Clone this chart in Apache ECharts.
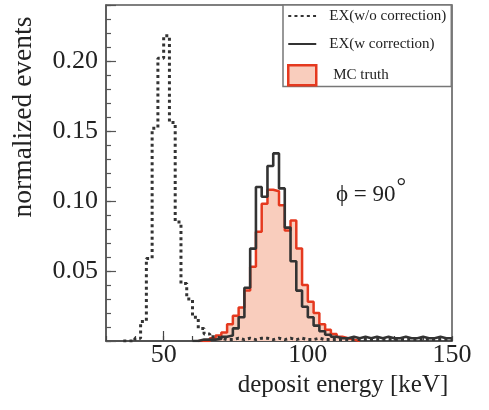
<!DOCTYPE html>
<html><head><meta charset="utf-8">
<script src="https://cdn.jsdelivr.net/npm/echarts@6/dist/echarts.min.js"></script>
<style>html,body{margin:0;padding:0;background:#fff}#c{width:489px;height:410px}</style>
</head><body><div id="c"></div>
<script>
// lower bin edges (keV), bin width 2; last entry closes the final bin
const binEdges = [36,38,40,42,44,46,48,50,52,54,56,58,60,62,64,66,68,70,72,74,76,78,80,82,84,86,88,90,92,94,96,98,100,102,104,106,108,110,112,114,116,118,120,122,124,126,128,130,132,134,136,138,140,142,144,146,148,150];

const exNoCorrection = [0,0,0.002,0.014,0.059,0.152,0.202,0.218,0.156,0.085,0.041,0.030,0.017,0.009,0.005,0.003,0.002,0.001,0.001,0.002,0.001,0.002,0.001,0.002,0.002,0.001,0.002,0.001,0.002,0.001,0.002,0.001,0.001,0.002,0.001,0.001,0.001,0.001,0.001,0.001,0.001,0.001,0.001,0.001,0.001,0.001,0.001,0.001,0.001,0.001,0.001,0.001,0.001,0.001,0.001,0.001,0.001];

const exCorrection = [0,0,0,0,0,0,0,0,0,0,0,0,0,0.001,0.001,0.001,0.0015,0.003,0.004,0.009,0.017,0.038,0.066,0.110,0.103,0.125,0.134,0.109,0.081,0.057,0.036,0.0245,0.017,0.011,0.007,0.0045,0.003,0.002,0.002,0.003,0.002,0.003,0.002,0.003,0.002,0.003,0.002,0.002,0.003,0.002,0.002,0.003,0.002,0.002,0.003,0.002,0.002];

const mcTruth = [0,0,0,0,0,0,0,0,0,0,0,0,0,0,0,0.002,0.004,0.006,0.012,0.018,0.024,0.036,0.053,0.078,0.098,0.108,0.107,0.097,0.079,0.086,0.066,0.040,0.028,0.020,0.012,0.008,0.005,0.003,0.002,0.001,0,0,0,0,0,0,0,0,0,0,0,0,0,0,0,0,0];

const xTickLabels = [50, 100, 150];
const xMajorTicks = [50, 100];
const yTickLabels = [0.05, 0.10, 0.15, 0.20];
const seriesNames = ['EX(w/o correction)', 'EX(w correction)', 'MC truth'];
const annotation = 'ϕ = 90';

const FONT = "'Liberation Serif', 'DejaVu Serif', serif";

function histData(vals, fromEdge, toEdge) {
  const pts = [];
  let last = null;
  for (let i = 0; i < vals.length; i++) {
    const e = binEdges[i];
    if (e >= fromEdge && e < toEdge) { pts.push([e, vals[i]]); last = vals[i]; }
  }
  pts.push([toEdge, last]);
  return pts;
}

const chart = echarts.init(document.getElementById('c'), null, {renderer: 'canvas'});
chart.setOption({
  animation: false,
  backgroundColor: '#fff',
  grid: {left: 106, right: 37, top: 5, bottom: 69, show: true, borderColor: '#555', borderWidth: 1.5, backgroundColor: 'transparent'},
  legend: {
    orient: 'vertical', left: 283, top: 5,
    itemWidth: 28, itemHeight: 20, itemGap: 12,
    padding: [3, 5, 0, 4],
    borderColor: '#777', borderWidth: 1.5, backgroundColor: '#fff',
    textStyle: {fontFamily: FONT, fontSize: 15, color: '#222', padding: [0, 0, 0, 8]},
    data: [
      {name: seriesNames[0], itemStyle: {opacity: 0}},
      {name: seriesNames[1], itemStyle: {opacity: 0}},
      {name: seriesNames[2], icon: 'rect', itemStyle: {color: '#f9cdbd', borderColor: '#e5391f', borderWidth: 2.5}, textStyle: {padding: [0, 0, 0, 12]}}
    ]
  },
  xAxis: [{
    type: 'value', min: 30, max: 150, interval: 10, position: 'bottom',
    axisLine: {show: true, lineStyle: {color: '#444', width: 1.5}},
    axisTick: {show: true, inside: true, length: 5, lineStyle: {color: '#444', width: 1.2}},
    axisLabel: {margin: 1, fontFamily: FONT, fontSize: 26, color: '#222',
      formatter: v => xTickLabels.indexOf(Math.round(v)) >= 0 ? String(Math.round(v)) : ''},
    splitLine: {show: false},
    name: 'deposit energy [keV]', nameLocation: 'middle', nameGap: 26,
    nameTextStyle: {fontFamily: FONT, fontSize: 25, color: '#222', padding: [0, 0, 0, 128]}
  }, {
    type: 'value', min: 30, max: 150, position: 'bottom', offset: 0,
    axisLine: {show: false}, axisLabel: {show: false}, splitLine: {show: false},
    axisTick: {show: true, inside: true, length: 10, customValues: xMajorTicks, lineStyle: {color: '#444', width: 1.2}}
  }],
  yAxis: [{
    type: 'value', min: 0, max: 0.24, interval: 0.05, position: 'left',
    axisLine: {show: true, lineStyle: {color: '#555', width: 1.5}},
    axisTick: {show: true, inside: true, length: 10, lineStyle: {color: '#555', width: 1.2}},
    axisLabel: {margin: 8, fontFamily: FONT, fontSize: 26, color: '#222',
      formatter: v => yTickLabels.some(t => Math.abs(t - v) < 1e-6) ? v.toFixed(2) : ''},
    splitLine: {show: false},
    name: 'normalized events', nameLocation: 'middle', nameRotate: 90, nameGap: 68,
    nameTextStyle: {fontFamily: FONT, fontSize: 27.5, color: '#222', padding: [0, 0, 0, 112]}
  }, {
    type: 'value', min: 0, max: 0.24, interval: 0.01, position: 'left', offset: 0,
    axisLine: {show: false}, axisLabel: {show: false}, splitLine: {show: false},
    axisTick: {show: true, inside: true, length: 5, lineStyle: {color: '#555', width: 1.2}}
  }],
  series: [{
    name: seriesNames[2], type: 'line', step: 'end', symbol: 'none', z: 2,
    data: histData(mcTruth, 62, 118),
    itemStyle: {color: '#e5391f'},
    lineStyle: {color: '#e5391f', width: 2.5},
    areaStyle: {color: '#f9cdbd', opacity: 1}
  }, {
    name: seriesNames[1], type: 'line', step: 'end', symbol: 'none', z: 3,
    data: histData(exCorrection, 60, 150),
    itemStyle: {color: '#333'},
    lineStyle: {color: '#333', width: 2.6}
  }, {
    name: seriesNames[0], type: 'line', step: 'end', symbol: 'none', z: 4,
    data: histData(exNoCorrection, 36, 150),
    itemStyle: {color: '#333'},
    lineStyle: {color: '#333', width: 3, type: [3, 3.2]}
  }],
  graphic: [{
    type: 'text', left: 336, top: 176,
    style: {
      text: '{a|' + annotation + '}{b|°}',
      rich: {
        a: {fontFamily: FONT, fontSize: 23, fill: '#222'},
        b: {fontFamily: FONT, fontSize: 24, fill: '#222', padding: [0, 0, 14, 1]}
      }
    }
  }]
});
</script></body></html>
